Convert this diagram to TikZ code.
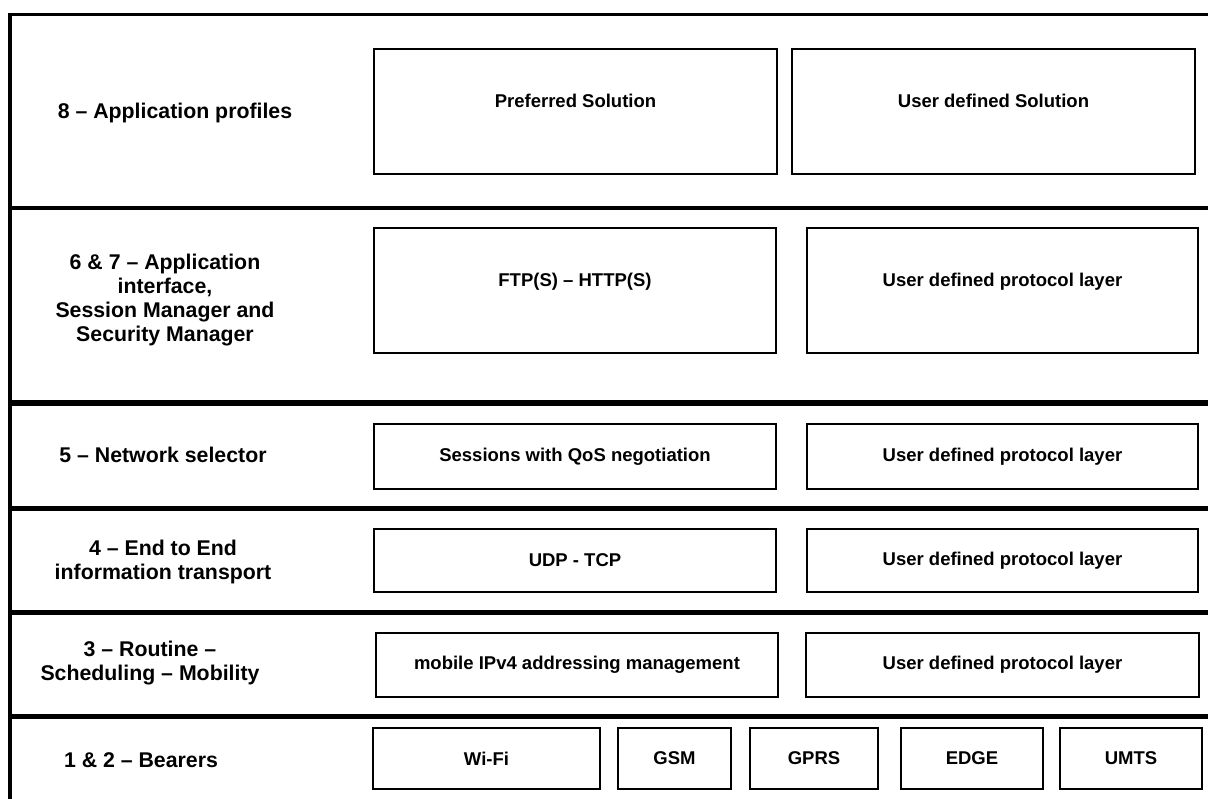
\documentclass[tikz,border=0pt]{standalone}
\usepackage{fontspec}
\setmainfont{Liberation Sans}
\begin{document}
\begin{tikzpicture}[x=1pt,y=-1pt,
  box/.style={draw=black, line width=1.8pt, fill=white, inner sep=0pt,
              font=\bfseries\fontsize{18.5}{22}\selectfont},
  boxtext/.style={inner sep=0pt, font=\bfseries\fontsize{18.5}{22}\selectfont},
  layer/.style={align=center, inner sep=0pt,
                font=\bfseries\fontsize{21.3}{24}\selectfont},
  rule/.style={line width=#1, line cap=butt}]
\useasboundingbox (0,0) rectangle (1208,799);
\fill[white] (0,0) rectangle (1208,799);

% outer frame and band separators
\draw[rule=3.5pt] (10,799) -- (10,14.5);
\draw[rule=3.5pt] (8.25,14.5) -- (1208,14.5);
\draw[rule=4pt] (10,208.5) -- (1208,208.5);
\draw[rule=6pt] (10,403) -- (1208,403);
\draw[rule=4.5pt] (10,508.5) -- (1208,508.5);
\draw[rule=5pt] (10,612) -- (1208,612);
\draw[rule=5pt] (10,716) -- (1208,716);

% layer names
\node[layer] (l8) at (175,113) {8 -- Application profiles};
\node[layer] (l67) at (165,300) {6 \& 7 -- Application\\interface,\\Session Manager and\\Security Manager};
\node[layer] (l5) at (163,455) {5 -- Network selector};
\node[layer] (l4) at (163,562) {4 -- End to End\\information transport};
\node[layer] (l3) at (150,663) {3 -- Routine --\\Scheduling -- Mobility};
\node[layer] (l12) at (141,760) {1 \& 2 -- Bearers};

% 8: application profiles
\node[box, minimum width=403pt, minimum height=125pt] (pref) at (575.5,111.5) {};
\node[boxtext] (preft) at ([yshift=11pt]pref.center) {Preferred Solution};
\node[box, minimum width=403pt, minimum height=125pt] (usol) at (993.5,111.5) {};
\node[boxtext] (usolt) at ([yshift=11pt]usol.center) {User defined Solution};

% 6 & 7: application interface
\node[box, minimum width=402pt, minimum height=125pt] (ftp) at (575,290.5) {};
\node[boxtext] (ftpt) at ([yshift=8.5pt]ftp.center) {FTP(S) -- HTTP(S)};
\node[box, minimum width=391pt, minimum height=125pt] (u67) at (1002.5,290.5) {};
\node[boxtext] (u67t) at ([yshift=8.5pt]u67.center) {User defined protocol layer};

% 5: network selector
\node[box, minimum width=402pt, minimum height=65pt] (qos) at (575,456.5) {Sessions with QoS negotiation};
\node[box, minimum width=391pt, minimum height=65pt] (u5) at (1002.5,456.5) {User defined protocol layer};

% 4: transport
\node[box, minimum width=402pt, minimum height=63pt] (udp) at (575,560.5) {UDP - TCP};
\node[box, minimum width=391pt, minimum height=63pt] (u4) at (1002.5,560.5) {User defined protocol layer};

% 3: routing / mobility
\node[box, minimum width=402pt, minimum height=64pt] (ipv4) at (577,665) {mobile IPv4 addressing management};
\node[box, minimum width=393pt, minimum height=64pt] (u3) at (1002.5,665) {User defined protocol layer};

% 1 & 2: bearers
\node[box, minimum width=227pt, minimum height=61pt] (wifi) at (486.5,758.5) {Wi-Fi};
\node[box, minimum width=113pt, minimum height=61pt] (gsm) at (674.5,758.5) {GSM};
\node[box, minimum width=128pt, minimum height=61pt] (gprs) at (814,758.5) {GPRS};
\node[box, minimum width=142pt, minimum height=61pt] (edge) at (972,758.5) {EDGE};
\node[box, minimum width=142pt, minimum height=61pt] (umts) at (1131,758.5) {UMTS};
\end{tikzpicture}
\end{document}
